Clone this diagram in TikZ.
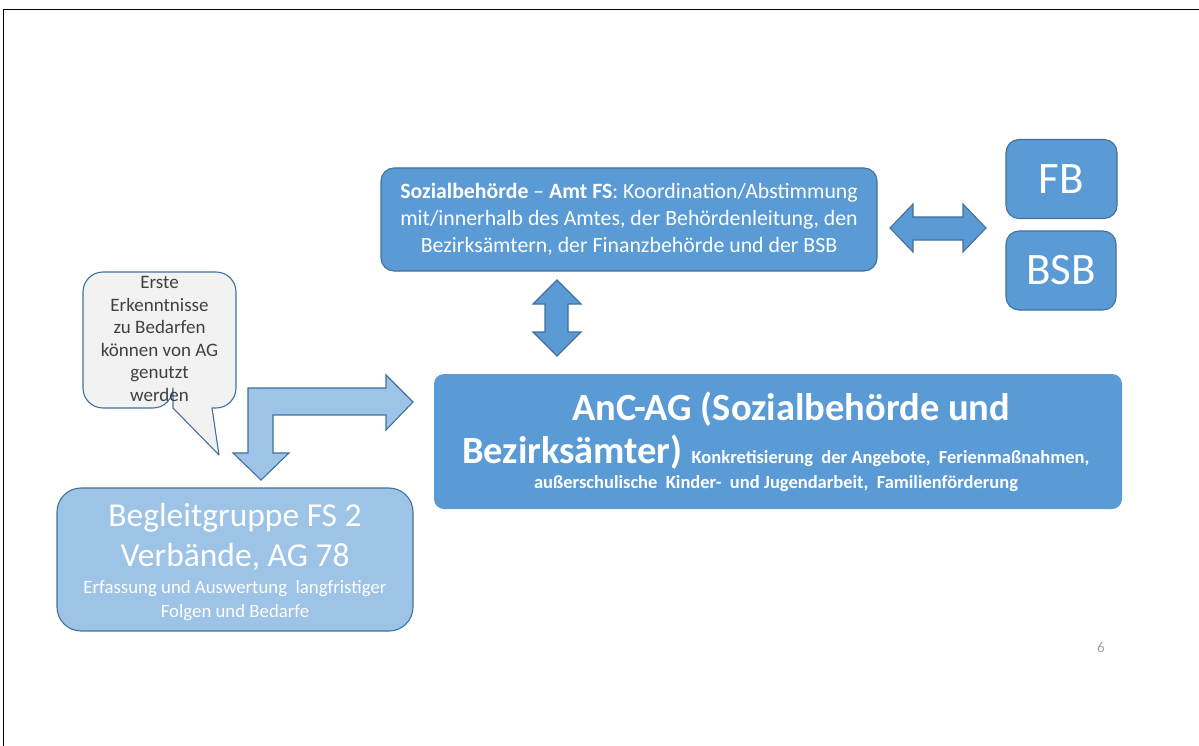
\documentclass[tikz,border=0pt]{standalone}
\usepackage{fontspec}
\setmainfont{Carlito}
\definecolor{boxblue}{HTML}{5B9BD5}
\definecolor{edgeblue}{HTML}{41719C}
\definecolor{lightblue}{HTML}{9DC3E6}
\definecolor{bubblegrey}{HTML}{F2F2F2}
\definecolor{textgrey}{HTML}{404040}
\definecolor{pagegrey}{HTML}{A6A6A6}
\begin{document}
\begin{tikzpicture}[x=1pt,y=-1pt,
  bluebox/.style={draw=edgeblue, fill=boxblue, line width=1.1pt, rounded corners=13pt, text=white, inner sep=0pt},
  lightbox/.style={draw=edgeblue, fill=lightblue, line width=1.1pt, rounded corners=24pt, text=white, inner sep=0pt},
  blockarrow/.style={draw=edgeblue, fill=boxblue, line width=1.1pt, line join=miter},
  lightarrow/.style={draw=edgeblue, fill=lightblue, line width=1.1pt, line join=miter},
  bubble/.style={draw=edgeblue, fill=bubblegrey, line width=1.1pt, line join=round},
]
\useasboundingbox (0,0) rectangle (1199,746);
\fill[white] (0,0) rectangle (1199,746);
\draw[line width=1pt, black] (3,746) -- (3,10) -- (1199,10);

% top box
\node[bluebox, minimum width=496pt, minimum height=103pt, align=center,
  font=\fontsize{21.8}{27}\selectfont] (soz) at (629,219.5)
  {\textbf{Sozialbehörde} -- \textbf{Amt FS}: Koordination/Abstimmung\\
   mit/innerhalb des Amtes, der Behördenleitung, den\\
   Bezirksämtern, der Finanzbehörde und der BSB};

% FB and BSB
\node[bluebox, minimum width=111pt, minimum height=79pt, font=\fontsize{45}{48}\selectfont] (fb) at (1061.5,179) {FB};
\node[bluebox, minimum width=110pt, minimum height=79pt, font=\fontsize{45}{48}\selectfont] (bsb) at (1061,270.5) {BSB};

% horizontal double arrow
\draw[blockarrow] (890,228) -- (913,204) -- (913,217) -- (963,217) -- (963,204)
  -- (986,228) -- (963,252) -- (963,240) -- (913,240) -- (913,252) -- cycle;

% vertical double arrow
\draw[blockarrow] (557,280) -- (581,304) -- (568,304) -- (568,332) -- (581,332)
  -- (557,356) -- (533,332) -- (545,332) -- (545,304) -- (533,304) -- cycle;

% AnC-AG box
\node[fill=boxblue, rounded corners=10pt, minimum width=688pt, minimum height=135pt, inner sep=0pt] (anc) at (778,441.5) {};
\node[text=white, font=\bfseries\fontsize{38.5}{44}\selectfont, anchor=base, inner sep=0pt] (anc1) at (791,420) {AnC-AG (Sozialbehörde und};
\node[text=white, anchor=base west, inner sep=0pt] (anc2) at (462,463)
  {\bfseries\fontsize{38.5}{44}\selectfont Bezirksämter)\hspace{9pt}\fontsize{18.5}{22}\selectfont Konkretisierung\ \ der Angebote,\ \ Ferienmaßnahmen,};
\node[text=white, font=\bfseries\fontsize{18.5}{22}\selectfont, anchor=base, inner sep=0pt] (anc3) at (776,488)
  {außerschulische\ \ Kinder-\ \ und Jugendarbeit,\ \ Familienförderung};

% speech bubble
\draw[bubble] (173,408) -- (219,455) -- (212,408) -- (216,408)
  [rounded corners=20pt] -- (236,408) -- (236,272) -- (83,272) -- (83,408) -- (173,408)
  [sharp corners] -- cycle;
\node[text=textgrey, align=center, font=\fontsize{19}{22.5}\selectfont] (bub) at (159.5,339)
  {Erste\\Erkenntnisse\\zu Bedarfen\\können von AG\\genutzt\\werden};

% bent arrow
\draw[lightarrow] (248,388) -- (386,388) -- (386,375) -- (413,402) -- (386,430)
  -- (386,415) -- (273,415) -- (273,453) -- (289,453) -- (261,480) -- (233,453)
  -- (248,453) -- cycle;

% Begleitgruppe box
\node[lightbox, minimum width=356pt, minimum height=143pt] (beg) at (235,559.5) {};
\node[text=white, font=\fontsize{33.5}{40}\selectfont, anchor=base, inner sep=0pt] (beg1) at (235,526)
  {Begleitgruppe FS 2};
\node[text=white, font=\fontsize{33.5}{40}\selectfont, anchor=base, inner sep=0pt] (beg2) at (235,566)
  {Verbände, AG 78};
\node[text=white, font=\fontsize{18.8}{24}\selectfont, anchor=base, inner sep=0pt] (beg3) at (235,593)
  {Erfassung und Auswertung\ \ langfristiger};
\node[text=white, font=\fontsize{18.8}{24}\selectfont, anchor=base, inner sep=0pt] (beg4) at (235,617)
  {Folgen und Bedarfe};

% page number
\node[text=pagegrey, font=\fontsize{15}{17}\selectfont] (pg) at (1101,647) {6};
\end{tikzpicture}
\end{document}
